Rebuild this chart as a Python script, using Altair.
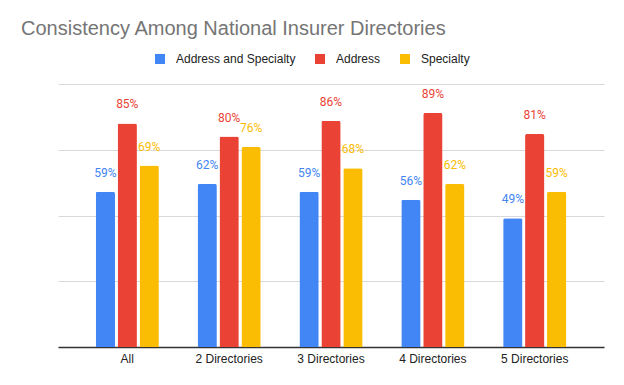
import altair as alt
import pandas as pd

categories = ["All", "2 Directories", "3 Directories", "4 Directories", "5 Directories"]
series = ["Address and Specialty", "Address", "Specialty"]
addr_spec = [59, 62, 59, 56, 49]
address = [85, 80, 86, 89, 81]
specialty = [69, 76, 68, 62, 59]
colors = ["#4285F4", "#EA4335", "#FBBC04"]

rows = []
for i, c in enumerate(categories):
    for s, vals in zip(series, [addr_spec, address, specialty]):
        rows.append({"category": c, "series": s, "value": vals[i] / 100})
df = pd.DataFrame(rows)

FONT = "Liberation Sans"

x = alt.X("category:N", sort=categories, title=None,
          scale=alt.Scale(paddingInner=0.38, paddingOuter=0.37),
          axis=alt.Axis(labelAngle=0, labelFont=FONT, labelFontSize=12, labelColor="#222222",
                        ticks=False, domainColor="#333333", domainWidth=1.5, labelPadding=6,
                        grid=False))
xo = alt.XOffset("series:N", sort=series, scale=alt.Scale(paddingInner=0.12, paddingOuter=0))
y = alt.Y("value:Q", title=None, scale=alt.Scale(domain=[0, 1]),
          axis=alt.Axis(labels=False, ticks=False, domain=False, values=[0, 0.25, 0.5, 0.75, 1],
                        gridColor="#d9d9d9", gridWidth=1))
color = alt.Color("series:N", sort=series, scale=alt.Scale(domain=series, range=colors),
                  legend=alt.Legend(title=None, orient="none", direction="horizontal",
                                    legendX=96, legendY=-31, symbolType="square", symbolSize=100,
                                    symbolStrokeWidth=0, labelFont=FONT, labelFontSize=12,
                                    labelColor="#222222", labelOffset=10, columnPadding=18))

bars = alt.Chart(df).mark_bar(cornerRadiusTopLeft=2, cornerRadiusTopRight=2).encode(
    x=x, xOffset=xo, y=y, color=color)

labels = alt.Chart(df).mark_text(font="Roboto", fontSize=12, baseline="middle", dy=-19).encode(
    x=alt.X("category:N", sort=categories),
    xOffset=alt.XOffset("series:N", sort=series),
    y="value:Q",
    text=alt.Text("value:Q", format=".0%"),
    color=alt.Color("series:N", sort=series, legend=None))

chart = alt.layer(bars, labels).properties(
    width=546, height=263,
    autosize=alt.AutoSizeParams(type="none"),
    padding={"left": 50, "top": 76, "right": 12, "bottom": 30},
    title=alt.TitleParams("Consistency Among National Insurer Directories", anchor="start",
                          font=FONT, fontSize=20, fontWeight="normal", color="#757575",
                          dx=-37, dy=-10, frame="group"),
).configure_view(stroke=None)

chart.save("out.html", embed_options={"renderer": "svg", "actions": False})
